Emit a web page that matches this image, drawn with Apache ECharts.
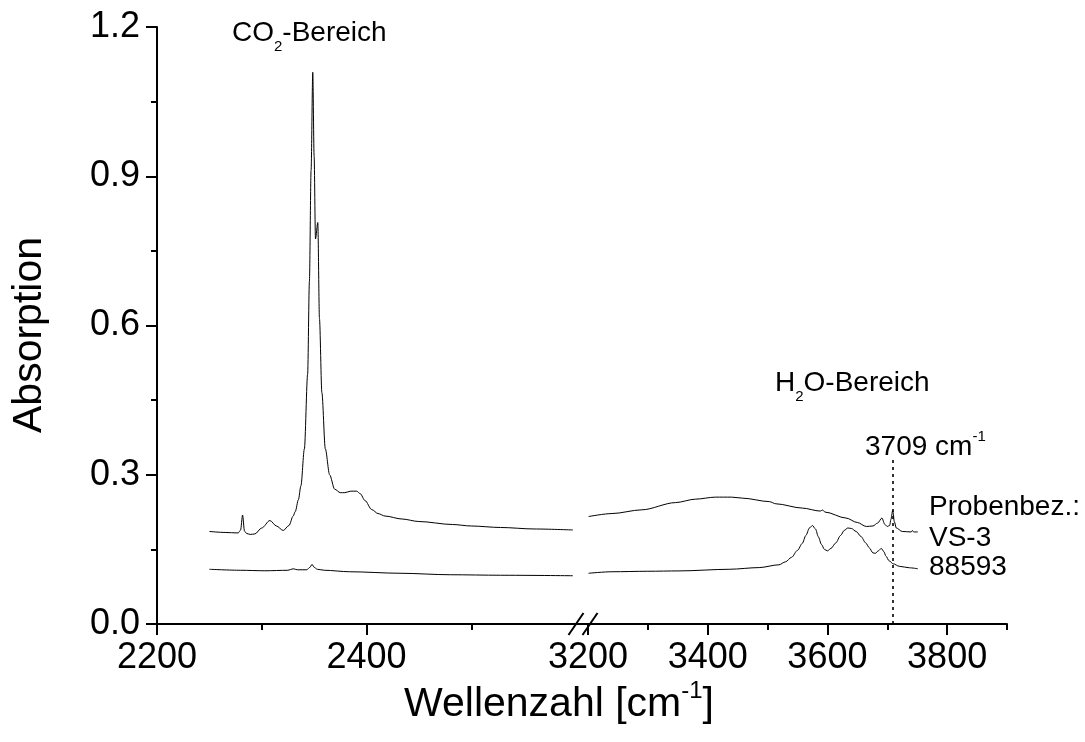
<!DOCTYPE html>
<html>
<head>
<meta charset="utf-8">
<script src="https://cdn.jsdelivr.net/npm/echarts@6/dist/echarts.min.js"></script>
<style>
html,body{margin:0;padding:0;background:#fff;}
#c{width:1085px;height:742px;}
</style>
</head>
<body>
<div id="c"></div>
<script>
// ---- data (wavenumber [cm^-1], absorption) ----
const co2Upper = [
  [2250,0.186],[2265,0.184],[2277.5,0.183],[2279.8,0.189],[2281.7,0.219],[2283.5,0.187],[2285.5,0.182],
  [2289,0.180],[2293.4,0.181],[2300,0.193],[2307.8,0.208],[2314,0.197],[2320.5,0.188],[2326,0.198],
  [2330,0.217],[2332,0.226],[2335,0.250],[2337.4,0.278],[2340.7,0.352],[2343.8,0.502],[2345.5,0.689],
  [2347.1,0.912],[2348.7,1.109],[2350,0.94],[2351.3,0.774],[2353.5,0.807],[2355.1,0.614],[2357.4,0.465],
  [2360.7,0.352],[2364.8,0.300],[2369.6,0.271],[2375,0.264],[2379.3,0.264],[2385,0.267],[2390.6,0.267],
  [2394,0.262],[2398.6,0.248],[2405,0.230],[2411,0.222],[2417.7,0.217],[2434,0.211],[2450,0.206],
  [2482,0.200],[2500,0.197],[2528,0.194],[2560,0.191],[2597,0.189]
];
const co2Lower = [
  [2250,0.110],[2280,0.108],[2303,0.107],[2325,0.108],[2330,0.111],[2334,0.109],[2343,0.109],
  [2346,0.114],[2348,0.120],[2350,0.114],[2353,0.110],[2360,0.108],[2384,0.105],[2432,0.102],
  [2480,0.099],[2528,0.098],[2597,0.097]
];
const h2oUpper = [
  [3201,0.216],[3240,0.222],[3290,0.2295],[3346,0.244],[3380,0.251],[3413,0.255],[3440,0.255],
  [3458,0.253],[3503,0.246],[3514,0.2416],[3558,0.233],[3588,0.227],[3592,0.229],[3596,0.225],
  [3631,0.213],[3650,0.204],[3665,0.196],[3676,0.197],[3684,0.203],[3691,0.213],[3696,0.200],
  [3700,0.196],[3704,0.198],[3706,0.210],[3709,0.228],[3712,0.205],[3715,0.193],[3725,0.186],
  [3740,0.185],[3742,0.188],[3744,0.185],[3751,0.185]
];
const h2oLower = [
  [3201,0.102],[3240,0.105],[3300,0.106],[3352,0.1067],[3436,0.110],[3486,0.1134],[3519,0.119],
  [3530,0.125],[3540,0.134],[3550,0.148],[3558,0.162],[3564,0.178],[3570,0.193],[3575,0.198],
  [3580,0.191],[3585,0.175],[3590,0.160],[3595,0.150],[3600,0.147],[3606,0.152],[3614,0.163],
  [3622,0.178],[3628,0.188],[3634,0.193],[3640,0.192],[3648,0.186],[3656,0.176],[3664,0.163],
  [3670,0.153],[3676,0.143],[3680,0.142],[3685,0.147],[3690,0.152],[3694,0.146],[3698,0.136],
  [3703,0.127],[3710,0.121],[3720,0.116],[3737,0.113],[3751,0.111]
];
const markerWave = 3709;
const markerTop = 0.33;

const leftRange = [2200, 2600];
const rightRange = [3180, 3900];
const leftMajor = [2200, 2400];
const leftMinor = [2300, 2500];
const rightMajor = [3200, 3400, 3600, 3800];
const rightMinor = [3300, 3500, 3700, 3900];
const yTicks = [0, 1.2, 0.3];

// ---- chart ----
const FONT = '"Liberation Sans", Arial, Helvetica, sans-serif';
const chart = echarts.init(document.getElementById('c'), null, {renderer: 'canvas'});

const axisLineStyle = {show: true, lineStyle: {color: '#000', width: 2}};
function majorX(grid, range, ticks) {
  return {
    type: 'value', gridIndex: grid, position: 'bottom', min: range[0], max: range[1],
    axisLine: axisLineStyle,
    axisTick: {show: true, inside: false, length: 11, customValues: ticks, lineStyle: {color: '#000', width: 2}},
    axisLabel: {show: true, customValues: ticks, margin: 16, color: '#000', fontSize: 36, fontFamily: FONT,
                formatter: v => String(Math.round(v))},
    splitLine: {show: false}
  };
}
function minorX(grid, range, ticks) {
  return {
    type: 'value', gridIndex: grid, position: 'bottom', min: range[0], max: range[1],
    axisLine: {show: false},
    axisTick: {show: true, inside: false, length: 6, customValues: ticks, lineStyle: {color: '#000', width: 2}},
    axisLabel: {show: false},
    splitLine: {show: false}
  };
}
function lineSeries(data, xi, yi) {
  return {
    type: 'line', data: data, xAxisIndex: xi, yAxisIndex: yi, showSymbol: false, symbol: 'none',
    smooth: 0.3, smoothMonotone: 'x', lineStyle: {color: '#000', width: 1}, silent: true
  };
}

const upperRight = lineSeries(h2oUpper, 2, 1);
upperRight.markLine = {
  silent: true, symbol: ['none', 'none'], label: {show: false},
  lineStyle: {color: '#000', width: 1.6, type: [3, 4]},
  data: [[{coord: [markerWave, 0]}, {coord: [markerWave, markerTop]}]]
};

const option = {
  animation: false,
  backgroundColor: '#fff',
  grid: [
    {left: 157, top: 27, width: 419, bottom: 118},
    {left: 576, top: 27, right: 78, bottom: 118}
  ],
  xAxis: [
    majorX(0, leftRange, leftMajor),
    minorX(0, leftRange, leftMinor),
    majorX(1, rightRange, rightMajor),
    minorX(1, rightRange, rightMinor)
  ],
  yAxis: [
    {
      type: 'value', gridIndex: 0, min: yTicks[0], max: yTicks[1], interval: yTicks[2],
      axisLine: axisLineStyle,
      axisTick: {show: true, inside: false, length: 11, lineStyle: {color: '#000', width: 2}},
      minorTick: {show: true, splitNumber: 2, length: 6, lineStyle: {color: '#000', width: 2}},
      axisLabel: {margin: 17, color: '#000', fontSize: 36, fontFamily: FONT, formatter: v => v.toFixed(1)},
      splitLine: {show: false}, minorSplitLine: {show: false}
    },
    {type: 'value', gridIndex: 1, min: yTicks[0], max: yTicks[1], show: false, splitLine: {show: false}}
  ],
  series: [
    lineSeries(co2Upper, 0, 0),
    lineSeries(co2Lower, 0, 0),
    upperRight,
    lineSeries(h2oLower, 2, 1)
  ]
};
chart.setOption(option);

// ---- texts & break marks ----
function txt(x, y, text, rich, align) {
  return {
    type: 'text', x: x, y: y, silent: true,
    style: {text: text, rich: rich, align: align || 'left', verticalAlign: 'middle',
            textAlign: align || 'left', textVerticalAlign: 'middle', fill: '#000',
            font: '28px ' + FONT}
  };
}
const r28 = {
  m: {fontSize: 28, fontFamily: FONT, fill: '#000'},
  sub: {fontSize: 15, fontFamily: FONT, fill: '#000', padding: [28, 0, 0, 0]},
  sup: {fontSize: 15, fontFamily: FONT, fill: '#000', padding: [0, 0, 20, 0]}
};
const r41 = {
  m: {fontSize: 41, fontFamily: FONT, fill: '#000'},
  sup: {fontSize: 24, fontFamily: FONT, fill: '#000', padding: [0, 0, 28, 0]}
};

const p2600 = chart.convertToPixel({xAxisIndex: 0, yAxisIndex: 0}, [leftRange[1], 0]);
const bx = p2600[0], by = p2600[1];
function slash(cx) {
  return {type: 'line', silent: true, shape: {x1: cx - 7.5, y1: by + 11, x2: cx + 7.5, y2: by - 11},
          style: {stroke: '#000', lineWidth: 2}};
}

chart.setOption({
  graphic: [
    slash(bx), slash(bx + 14),
    txt(232, 33, '{m|CO}{sub|2}{m|-Bereich}', r28),
    txt(775, 383, '{m|H}{sub|2}{m|O-Bereich}', r28),
    txt(865, 447, '{m|3709 cm}{sup|-1}', r28),
    txt(929, 507, '{m|Probenbez.:}', r28),
    txt(929, 538, '{m|VS-3}', r28),
    txt(929, 567, '{m|88593}', r28),
    txt(559, 705, '{m|Wellenzahl [cm}{sup|-1}{m|]}', r41, 'center'),
    {
      type: 'text', x: 30, y: 335, rotation: Math.PI / 2, silent: true,
      style: {text: 'Absorption', font: '41px ' + FONT, fill: '#000', align: 'center', verticalAlign: 'middle',
              textAlign: 'center', textVerticalAlign: 'middle'}
    }
  ]
});
</script>
</body>
</html>
